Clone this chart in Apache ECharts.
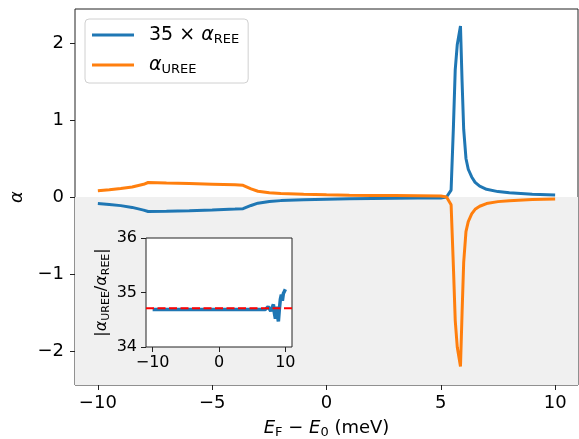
<!DOCTYPE html>
<html>
<head>
<meta charset="utf-8">
<script src="https://cdn.jsdelivr.net/npm/echarts@6/dist/echarts.min.js"></script>
<style>
  html, body { margin: 0; padding: 0; background: #fff; overflow: hidden; }
  #chart { width: 579px; height: 439px; }
</style>
</head>
<body>
<div id="chart"></div>
<script>
  // main panel: Fermi energy offset (meV)
  const energy = [
    -10, -9.5, -9, -8.5, -8, -7.8, -7, -6, -5, -4, -3.65, -3.3, -3, -2.5, -2,
    -1, 0, 1, 2, 3, 4, 5, 5.25, 5.45, 5.55, 5.63, 5.72, 5.86, 5.93, 6.0,
    6.1, 6.2, 6.35, 6.5, 6.7, 7.0, 7.5, 8, 9, 10,
  ];
  const alphaREE35 = [
    -0.085, -0.098, -0.112, -0.135, -0.17, -0.188, -0.184, -0.177, -0.168, -0.157, -0.152, -0.11, -0.08, -0.058, -0.047,
    -0.035, -0.028, -0.022, -0.018, -0.016, -0.014, -0.012, 0.0, 0.09, 0.9, 1.65, 1.98, 2.22, 1.5, 0.88,
    0.5, 0.36, 0.26, 0.19, 0.14, 0.1, 0.07, 0.055, 0.037, 0.027,
  ];
  const alphaUREE = [
    0.082, 0.095, 0.11, 0.13, 0.165, 0.188, 0.182, 0.175, 0.167, 0.158, 0.152, 0.105, 0.075, 0.055, 0.045,
    0.035, 0.028, 0.024, 0.021, 0.019, 0.017, 0.014, 0.0, -0.1, -0.9, -1.6, -1.95, -2.2, -1.5, -0.85,
    -0.45, -0.32, -0.22, -0.16, -0.12, -0.085, -0.06, -0.048, -0.034, -0.026,
  ];

  // inset: ratio |alpha_UREE / alpha_REE|
  const insetEnergy = [
    -10, -8, -6, -4, -2, 0, 2, 4, 6, 7, 7.4, 7.6, 7.8, 8.0, 8.2, 8.35, 8.5,
    8.65, 8.8, 8.95, 9.1, 9.25, 9.4, 9.55, 9.7, 9.85, 10,
  ];
  const ratio = [
    34.69, 34.69, 34.69, 34.69, 34.69, 34.69, 34.69, 34.69, 34.69, 34.69, 34.74, 34.7, 34.66, 34.72, 34.78, 34.62, 34.52,
    34.74, 34.6, 34.47, 34.7, 34.88, 34.96, 34.85, 34.98, 35.02, 35.06,
  ];
  const ratioMean = 34.71;
  const ratioSpan = [-11, 11];

  const mainXTicks = [-10, -5, 0, 5, 10];
  const mainYTicks = [-2, -1, 0, 1, 2];
  const insetXTicks = [-10, 0, 10];

  const font = 'DejaVu Sans';
  const minus = (v) => String(v).replace('-', '\u2212');
  const sub = (size, pad) => ({
    fontFamily: font, fontSize: size, lineHeight: size + 1, padding: [pad, 0, 0, 0], color: '#000',
  });
  const ital = (size) => ({ fontFamily: font, fontSize: size, fontStyle: 'italic', color: '#000' });

  const chart = echarts.init(document.getElementById('chart'), null, { width: 579, height: 439 });

  chart.setOption({
    animation: false,
    backgroundColor: '#fff',
    grid: [
      {
        left: 75, right: 1, top: 9, bottom: 54,
        outerBoundsMode: 'none',
        show: true, borderColor: '#222', borderWidth: 1, backgroundColor: 'transparent',
      },
      {
        left: 146, right: 287, top: 238, bottom: 92,
        outerBoundsMode: 'none',
        show: true, borderColor: '#222', borderWidth: 1, backgroundColor: '#fff', zlevel: 1,
      },
    ],
    legend: {
      left: 85,
      top: 19,
      orient: 'vertical',
      padding: [4, 9, 6, 7],
      itemGap: 6,
      itemWidth: 42,
      itemHeight: 3,
      icon: 'rect',
      backgroundColor: 'rgba(255,255,255,0.8)',
      borderColor: '#d0d0d0',
      borderWidth: 1,
      borderRadius: 4,
      data: ['ree', 'uree'],
      formatter: (name) => (name === 'ree' ? '35 × {i|α}{s|REE}' : '{i|α}{s|UREE}'),
      textStyle: {
        fontFamily: font,
        fontSize: 19,
        color: '#000',
        lineHeight: 24,
        padding: [0, 0, 0, 10],
        rich: { i: ital(19), s: sub(13, 9) },
      },
    },
    xAxis: [
      {
        type: 'value',
        gridIndex: 0,
        min: -11,
        max: 11,
        splitLine: { show: false },
        axisLine: { show: false, onZero: false },
        axisTick: { show: true, length: 5, customValues: mainXTicks, lineStyle: { color: '#222' } },
        axisLabel: { customValues: mainXTicks, formatter: minus, fontFamily: font, fontSize: 18, color: '#000', margin: 9 },
        name: '{i|E}{s|F} − {i|E}{s|0} (meV)',
        nameLocation: 'middle',
        nameGap: 33,
        nameTextStyle: {
          fontFamily: font,
          fontSize: 18,
          color: '#000',
          rich: { i: ital(18), s: sub(13, 9) },
        },
      },
      {
        type: 'value',
        gridIndex: 1,
        min: -11,
        max: 11,
        zlevel: 1,
        splitLine: { show: false },
        axisLine: { show: false, onZero: false },
        axisTick: { show: true, length: 5, customValues: insetXTicks, lineStyle: { color: '#222' } },
        axisLabel: { customValues: insetXTicks, formatter: minus, fontFamily: font, fontSize: 16, color: '#000', margin: 8 },
      },
    ],
    yAxis: [
      {
        type: 'value',
        gridIndex: 0,
        min: -2.44,
        max: 2.44,
        splitLine: { show: false },
        axisLine: { show: false, onZero: false },
        axisTick: { show: true, length: 5, customValues: mainYTicks, lineStyle: { color: '#222' } },
        axisLabel: { customValues: mainYTicks, formatter: minus, fontFamily: font, fontSize: 18, color: '#000', margin: 11 },
        name: '{i|α}',
        nameLocation: 'middle',
        nameGap: 47,
        nameTextStyle: { fontFamily: font, fontSize: 18, color: '#000', rich: { i: ital(18) } },
      },
      {
        type: 'value',
        gridIndex: 1,
        min: 34,
        max: 36,
        interval: 1,
        zlevel: 1,
        splitLine: { show: false },
        axisLine: { show: false, onZero: false },
        axisTick: { show: true, length: 5, lineStyle: { color: '#222' } },
        axisLabel: { fontFamily: font, fontSize: 16, color: '#000', margin: 9 },
        name: '|{i|α}{s|UREE}/{i|α}{s|REE}|',
        nameLocation: 'middle',
        nameGap: 36,
        nameTextStyle: {
          fontFamily: font,
          fontSize: 16,
          color: '#000',
          rich: { i: ital(16), s: sub(11, 8) },
        },
      },
    ],
    series: [
      {
        name: 'ree',
        type: 'line',
        xAxisIndex: 0,
        yAxisIndex: 0,
        showSymbol: false,
        data: energy.map((e, i) => [e, alphaREE35[i]]),
        lineStyle: { color: '#1f77b4', width: 3 },
        itemStyle: { color: '#1f77b4' },
        z: 3,
        markArea: {
          silent: true,
          itemStyle: { color: '#f0f0f0' },
          data: [[{ coord: [-11, 0] }, { coord: [11, -2.44] }]],
        },
      },
      {
        name: 'uree',
        type: 'line',
        xAxisIndex: 0,
        yAxisIndex: 0,
        showSymbol: false,
        data: energy.map((e, i) => [e, alphaUREE[i]]),
        lineStyle: { color: '#ff7f0e', width: 3 },
        itemStyle: { color: '#ff7f0e' },
        z: 4,
      },
      {
        name: 'ratio',
        type: 'line',
        xAxisIndex: 1,
        yAxisIndex: 1,
        zlevel: 1,
        z: 3,
        showSymbol: false,
        data: insetEnergy.map((e, i) => [e, ratio[i]]),
        lineStyle: { color: '#1f77b4', width: 3.5 },
        itemStyle: { color: '#1f77b4' },
      },
      {
        name: 'mean',
        type: 'line',
        xAxisIndex: 1,
        yAxisIndex: 1,
        zlevel: 1,
        z: 5,
        showSymbol: false,
        data: ratioSpan.map((e) => [e, ratioMean]),
        lineStyle: { color: '#ff0000', type: [8, 3.5], width: 2 },
        itemStyle: { color: '#ff0000' },
      },
    ],
  });
</script>
</body>
</html>
